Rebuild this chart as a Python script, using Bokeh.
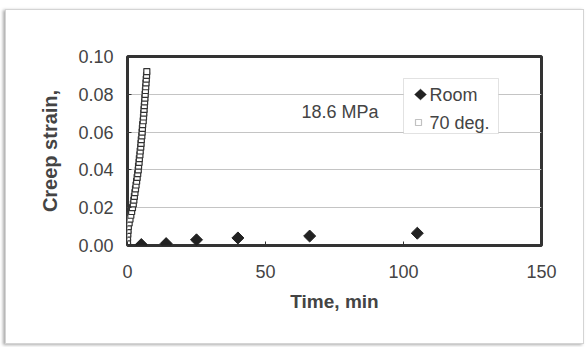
import math
from bokeh.plotting import figure
from bokeh.models import Label, FixedTicker, BoxAnnotation, PolyAnnotation
from bokeh.embed import file_html
from bokeh.resources import INLINE

room_t = [5, 14, 25, 40, 66, 105]
room_s = [0.0005, 0.001, 0.003, 0.004, 0.005, 0.0065]

hot_t = [0, 0, 0, 0.1, 0.2, 0.3, 0.6, 0.9, 1.2, 1.5, 1.8, 2.1, 2.3, 2.5, 2.7, 2.9,
         3.1, 3.3, 3.5, 3.7, 3.9, 4.0, 4.2, 4.3, 4.5, 4.6, 4.8, 4.9, 5.0, 5.2, 5.3,
         5.4, 5.5, 5.7, 5.8, 5.9, 6.0, 6.1, 6.2, 6.3, 6.4, 6.5, 6.6, 6.7, 6.8, 6.9, 7.0]
hot_s = [0.000, 0.002, 0.004, 0.006, 0.008, 0.010, 0.012, 0.014, 0.016, 0.018, 0.020,
         0.022, 0.024, 0.026, 0.028, 0.030, 0.032, 0.034, 0.036, 0.038, 0.040, 0.042,
         0.044, 0.046, 0.048, 0.050, 0.052, 0.054, 0.056, 0.058, 0.060, 0.062, 0.064,
         0.066, 0.068, 0.070, 0.072, 0.074, 0.076, 0.078, 0.080, 0.082, 0.084, 0.086,
         0.088, 0.090, 0.092]

series_names = ["Room", "70 deg."]
x_ticks = [0, 50, 100, 150]
y_ticks = [0.00, 0.02, 0.04, 0.06, 0.08, 0.10]
y_tick_labels = {0.0: "0.00", 0.02: "0.02", 0.04: "0.04", 0.06: "0.06", 0.08: "0.08", 0.1: "0.10"}
stress_note = "18.6 MPa"

FONT = "Liberation Sans"
DARK = "#333333"
TXT = "#444444"

p = figure(width=579, height=335, output_backend="svg", toolbar_location=None,
           x_range=(0, 150), y_range=(0, 0.10),
           min_border_left=121, min_border_right=44, min_border_top=46, min_border_bottom=100)
p.margin = (9, 0, 0, 5)
p.background_fill_color = "white"
p.border_fill_color = "white"
p.outline_line_color = DARK
p.outline_line_width = 3
p.styles = {"border": "1px solid #d4d4d4", "box-shadow": "-2px 1px 3px #aaaaaa"}

p.xgrid.grid_line_color = None
p.ygrid.grid_line_color = "#c4c4c4"
p.ygrid.grid_line_width = 1

p.xaxis.ticker = FixedTicker(ticks=x_ticks)
p.yaxis.ticker = FixedTicker(ticks=y_ticks)
p.yaxis.major_label_overrides = y_tick_labels
for ax in (p.xaxis, p.yaxis):
    ax.axis_line_color = None
    ax.major_tick_in = 4
    ax.major_tick_out = 0
    ax.major_tick_line_color = DARK
    ax.minor_tick_line_color = None
    ax.major_label_text_font = FONT
    ax.major_label_text_font_size = "18px"
    ax.major_label_text_color = TXT
    ax.axis_label_text_font = FONT
    ax.axis_label_text_font_style = "bold"
    ax.axis_label_text_color = TXT
p.xaxis.major_label_standoff = 19
p.yaxis.major_label_standoff = 14
p.xaxis.axis_label = "Time, min"
p.yaxis.axis_label = "Creep strain,"
p.xaxis.axis_label_text_font_size = "19px"
p.yaxis.axis_label_text_font_size = "20px"
p.xaxis.axis_label_standoff = 10
p.yaxis.axis_label_standoff = 14

p.scatter(hot_t, hot_s, marker="square", size=6, fill_color="white",
          line_color=DARK, line_width=1.2)
p.scatter(room_t, room_s, marker="square", angle=math.pi / 4, size=8.5,
          fill_color="#222222", line_color="#222222")

# legend (drawn in screen units relative to the plot frame)
p.add_layout(BoxAnnotation(left=276, right=371, bottom=112, top=167,
                           left_units="screen", right_units="screen",
                           bottom_units="screen", top_units="screen",
                           fill_color="white", fill_alpha=1,
                           line_color="#a0a0a0", line_width=1))
p.add_layout(PolyAnnotation(xs=[287, 293, 299, 293], ys=[151, 156.5, 151, 145.5],
                            xs_units="screen", ys_units="screen",
                            fill_color="#222222", fill_alpha=1, line_color="#222222"))
p.add_layout(PolyAnnotation(xs=[288, 294, 294, 288], ys=[120, 120, 126, 126],
                            xs_units="screen", ys_units="screen",
                            fill_color="white", fill_alpha=1, line_color=DARK, line_width=1.2))
p.add_layout(Label(x=302, y=151, x_units="screen", y_units="screen", text=series_names[0],
                   text_font=FONT, text_font_size="18px", text_color=TXT, text_baseline="middle"))
p.add_layout(Label(x=302, y=123, x_units="screen", y_units="screen", text=series_names[1],
                   text_font=FONT, text_font_size="18px", text_color=TXT, text_baseline="middle"))

p.add_layout(Label(x=63, y=0.0704, text=stress_note, text_font=FONT, text_font_size="18px",
                   text_color=TXT, text_baseline="middle"))

open("out.html", "w").write(file_html(p, INLINE))
